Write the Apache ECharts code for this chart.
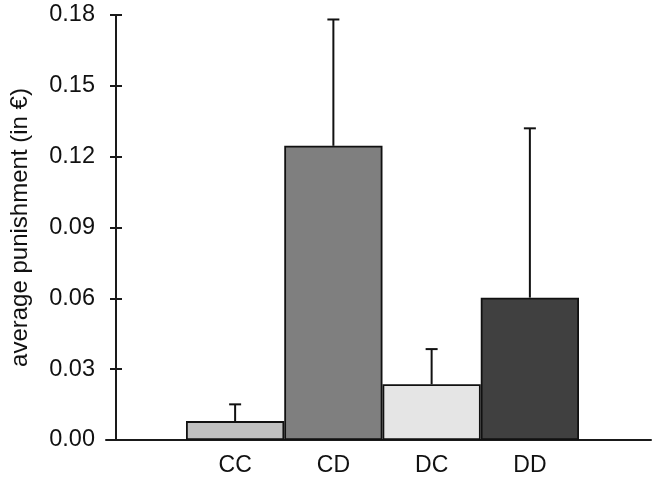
<!DOCTYPE html>
<html>
<head>
<meta charset="utf-8">
<script src="https://cdn.jsdelivr.net/npm/echarts@6/dist/echarts.min.js"></script>
<style>html,body{margin:0;padding:0;background:#fff;}#c{width:658px;height:480px;}</style>
</head>
<body>
<div id="c"></div>
<script>
const categories = ['CC', 'CD', 'DC', 'DD'];
const means = [0.0080, 0.1246, 0.0236, 0.0603];
const errors = [0.0071, 0.0535, 0.0149, 0.0717];
const barColors = ['#c0c0c0', '#7f7f7f', '#e5e5e5', '#404040'];
const yTicks = [0, 0.03, 0.06, 0.09, 0.12, 0.15, 0.18];

const font = 'Liberation Sans, Arial, sans-serif';
const chart = echarts.init(document.getElementById('c'));
const gTop = 15, gBottom = 40;
chart.setOption({
  animation: false,
  backgroundColor: '#fff',
  grid: [
    {left: 106, right: 7, top: gTop, bottom: gBottom},
    {left: 113, right: 7, top: gTop, bottom: gBottom},
    {left: 186, right: 79, top: gTop, bottom: gBottom}
  ],
  xAxis: [
    {gridIndex: 0, type: 'category', data: categories, axisLine: {show: true, lineStyle: {color: '#1a1a1a', width: 2}}, axisTick: {show: false}, axisLabel: {show: false}},
    {gridIndex: 1, type: 'category', data: categories, show: false},
    {gridIndex: 2, type: 'category', data: categories, axisLine: {show: false}, axisTick: {show: false},
      axisLabel: {color: '#111', fontFamily: font, fontSize: 23, margin: 14}}
  ],
  yAxis: [
    {gridIndex: 0, type: 'value', min: 0, max: 0.18, show: false},
    {gridIndex: 1, type: 'value', min: 0, max: 0.18, interval: 0.03, position: 'left',
      name: 'average punishment (in €)', nameLocation: 'middle', nameGap: 84,
      nameTextStyle: {color: '#111', fontFamily: font, fontSize: 24},
      axisLine: {show: true, lineStyle: {color: '#1a1a1a', width: 2}},
      axisTick: {show: false},
      splitLine: {show: false},
      axisLabel: {color: '#111', fontFamily: font, fontSize: 23.5, margin: 21,
        formatter: v => v.toFixed(2)}},
    {gridIndex: 1, type: 'value', min: 0, max: 0.18, interval: 0.03, position: 'left', offset: -6,
      axisLine: {show: false}, splitLine: {show: false}, axisLabel: {show: false},
      axisTick: {show: true, length: 12, lineStyle: {color: '#1a1a1a', width: 2}}},
    {gridIndex: 2, type: 'value', min: 0, max: 0.18, show: false}
  ],
  series: [
    {
      type: 'bar', xAxisIndex: 2, yAxisIndex: 3, barCategoryGap: 0, z: 3,
      data: means.map((v, i) => ({value: v, itemStyle: {color: barColors[i]}})),
      itemStyle: {borderColor: '#111', borderWidth: 1.8}
    },
    {
      type: 'custom', xAxisIndex: 2, yAxisIndex: 3, z: 4,
      data: means.map((v, i) => [i, v, v + errors[i]]),
      renderItem: function (params, api) {
        const lo = api.coord([api.value(0), api.value(1)]);
        const hi = api.coord([api.value(0), api.value(2)]);
        const style = {stroke: '#111', lineWidth: 2};
        return {type: 'group', children: [
          {type: 'line', shape: {x1: lo[0], y1: lo[1], x2: hi[0], y2: hi[1]}, style: style},
          {type: 'line', shape: {x1: hi[0] - 6, y1: hi[1], x2: hi[0] + 6, y2: hi[1]}, style: style}
        ]};
      }
    }
  ]
});
</script>
</body>
</html>
